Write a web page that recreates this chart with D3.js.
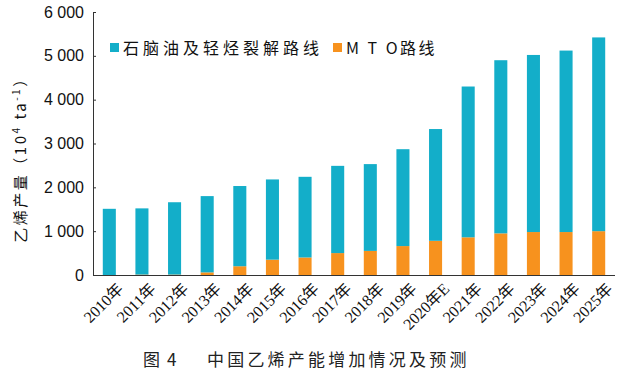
<!DOCTYPE html>
<html lang="zh">
<head>
  <meta charset="UTF-8">
  <title>中国乙烯产能增加情况及预测</title>
  <style>
    body { margin: 0; background: #fff; }
    .tick text { font-family: "Liberation Sans", Arial, sans-serif; }
  </style>
</head>
<body>
  <div id="chart"></div>
  <script src="https://d3js.org/d3.v7.min.js"></script>
  <script>
    // data (10^4 t/a)
    const years = ["2010年", "2011年", "2012年", "2013年", "2014年", "2015年", "2016年", "2017年",
      "2018年", "2019年", "2020年E", "2021年", "2022年", "2023年", "2024年", "2025年"];
    const mto = [0, 10, 10, 60, 200, 350, 400, 500, 550, 660, 780, 860, 950, 980, 980, 1000];
    const naphtha = [1510, 1510, 1650, 1740, 1830, 1830, 1840, 1990, 1980, 2210, 2550, 3440, 3950, 4040, 4140, 4420];
    const yTicks = [0, 1000, 2000, 3000, 4000, 5000, 6000];
    const seriesNames = ["石脑油及轻烃裂解路线", "M T O路线"];
    const colors = ["#13aec9", "#f7921e"];

    const width = 634, height = 389;
    const margin = { top: 12, right: 19, bottom: 115, left: 93 };

    const svg = d3.select("#chart").append("svg")
      .attr("width", width)
      .attr("height", height);

    const x = d3.scaleBand()
      .domain(years)
      .range([margin.left, width - margin.right])
      .paddingInner(0.6)
      .paddingOuter(0.3);

    const y = d3.scaleLinear()
      .domain([0, 6000])
      .range([height - margin.bottom + 1, margin.top]);

    const rows = years.map((yr, i) => ({ year: yr, mto: mto[i], naphtha: naphtha[i] }));
    const stack = d3.stack().keys(["mto", "naphtha"])(rows);

    svg.append("g")
      .selectAll("g")
      .data(stack)
      .join("g")
      .attr("fill", (d, i) => colors[1 - i])
      .selectAll("rect")
      .data(d => d)
      .join("rect")
      .attr("x", d => x(d.data.year))
      .attr("width", x.bandwidth())
      .attr("y", d => y(d[1]))
      .attr("height", d => y(d[0]) - y(d[1]));

    // y axis, ticks pointing inward
    const yAxis = svg.append("g")
      .attr("transform", `translate(${margin.left},0)`)
      .call(d3.axisLeft(y).tickValues(yTicks).tickSize(-3).tickPadding(9)
        .tickFormat(d => d3.format(",")(d).replace(",", " ")));
    yAxis.selectAll("text").attr("font-size", 16).attr("fill", "#111");
    yAxis.selectAll("line, path").attr("stroke", "#333");

    // x axis line
    svg.append("line")
      .attr("x1", margin.left).attr("x2", width - margin.right)
      .attr("y1", y(0) + 0.5).attr("y2", y(0) + 0.5)
      .attr("stroke", "#333");

    // x labels, rotated
    svg.append("g")
      .selectAll("text")
      .data(years)
      .join("text")
      .attr("transform", d => `translate(${x(d) + x.bandwidth() / 2 + 7},${y(0) + 7}) rotate(-45)`)
      .attr("text-anchor", "end")
      .attr("dy", "0.7em")
      .attr("font-family", "'Liberation Serif', 'Times New Roman', 'Noto Sans CJK SC', serif")
      .attr("font-size", 16)
      .attr("fill", "#111")
      .text(d => d);

    // legend
    const legend = svg.append("g").attr("font-family", "'Noto Sans CJK SC', sans-serif")
      .attr("font-size", 16).attr("fill", "#111");
    const legendX = [110, 333];
    const legendSpacing = [4, 2.5];
    seriesNames.forEach((name, i) => {
      legend.append("rect")
        .attr("x", legendX[i]).attr("y", 43)
        .attr("width", 9).attr("height", 9)
        .attr("fill", colors[i]);
      legend.append("text")
        .attr("x", legendX[i] + 13).attr("y", 54)
        .attr("letter-spacing", legendSpacing[i])
        .text(name);
    });

    // y axis title
    const yt = svg.append("text")
      .attr("transform", "translate(26,156) rotate(-90)")
      .attr("text-anchor", "middle")
      .attr("font-family", "'Noto Sans CJK SC', sans-serif")
      .attr("font-size", 15)
      .attr("fill", "#111")
      .attr("letter-spacing", 2.5);
    yt.append("tspan").text("乙烯产量（10");
    yt.append("tspan").attr("dy", -6).attr("font-size", 10).text("4");
    yt.append("tspan").attr("dy", 6).text(" ta");
    yt.append("tspan").attr("dy", -6).attr("font-size", 10).text("-1");
    yt.append("tspan").attr("dy", 6).text("）");

    // caption
    const cap = svg.append("text")
      .attr("y", 366)
      .attr("font-family", "'Noto Sans CJK SC', sans-serif")
      .attr("font-size", 17)
      .attr("fill", "#222");
    cap.append("tspan").attr("x", 143).text("图");
    cap.append("tspan").attr("x", 167).text("4");
    cap.append("tspan").attr("x", 207).attr("letter-spacing", 3.2).text("中国乙烯产能增加情况及预测");
  </script>
</body>
</html>
